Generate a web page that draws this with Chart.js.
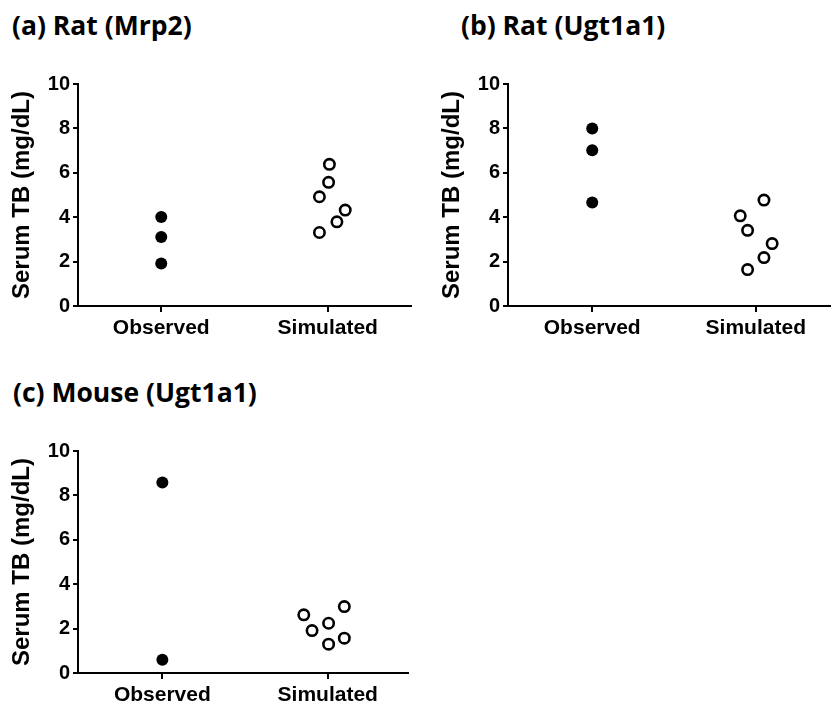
<!DOCTYPE html>
<html>
<head>
<meta charset="utf-8">
<script src="https://cdn.jsdelivr.net/npm/chart.js@4.4.1/dist/chart.umd.min.js"></script>
<style>
  html, body { margin: 0; padding: 0; background: #fff; width: 838px; height: 704px; overflow: hidden; }
  .panel-title { position: absolute; font-family: "Open Sans", sans-serif; font-weight: 700; font-size: 26.5px; line-height: 26.5px; color: #000; white-space: nowrap; }
  canvas { position: absolute; }
</style>
</head>
<body>
<div class="panel-title" style="left:12px; top:12px;">(a) Rat (Mrp2)</div>
<div class="panel-title" style="left:461px; top:12px;">(b) Rat (Ugt1a1)</div>
<div class="panel-title" style="left:13px; top:379px;">(c) Mouse (Ugt1a1)</div>
<canvas id="chartA" width="420" height="290" style="left:0px; top:60px;"></canvas>
<canvas id="chartB" width="418" height="290" style="left:420px; top:60px;"></canvas>
<canvas id="chartC" width="420" height="290" style="left:0px; top:426px;"></canvas>
<script>
// ---- Data ----
const categories = ['Observed', 'Simulated'];
const yTickValues = [0, 2, 4, 6, 8, 10];
const yAxisTitle = 'Serum TB (mg/dL)';

// (a) Rat (Mrp2)
const ratMrp2Observed = [4.01, 3.11, 1.91];
const ratMrp2ObservedJitter = [0, 0, 0];
const ratMrp2Simulated = [4.92, 5.57, 6.38, 4.32, 3.79, 3.31];
const ratMrp2SimulatedJitter = [-0.10, 0.01, 0.02, 0.21, 0.11, -0.10];

// (b) Rat (Ugt1a1)
const ratUgtObserved = [8.00, 7.02, 4.66];
const ratUgtObservedJitter = [0, 0, 0];
const ratUgtSimulated = [4.06, 3.41, 4.77, 2.81, 2.18, 1.64];
const ratUgtSimulatedJitter = [-0.19, -0.10, 0.10, 0.20, 0.10, -0.10];

// (c) Mouse (Ugt1a1)
const mouseUgtObserved = [8.58, 0.60];
const mouseUgtObservedJitter = [0, 0];
const mouseUgtSimulated = [2.62, 1.91, 2.24, 2.99, 1.30, 1.57];
const mouseUgtSimulatedJitter = [-0.29, -0.19, 0.01, 0.20, 0.01, 0.20];

// ---- Helpers ----
const catPos = i => 1 + 2 * i;
function toPoints(values, jitter, catIndex) {
  return values.map((v, i) => ({ x: catPos(catIndex) + jitter[i], y: v }));
}
const tickFont = { family: '"Liberation Sans", Arial, sans-serif', weight: 'bold', size: 20 };
const xTickFont = { family: '"Liberation Sans", Arial, sans-serif', weight: 'bold', size: 21 };
const titleFont = { family: '"Liberation Sans", Arial, sans-serif', weight: 'bold', size: 24 };

function makeChart(id, obs, obsJ, sim, simJ, opt) {
  new Chart(document.getElementById(id), {
    type: 'scatter',
    data: {
      datasets: [
        {
          label: categories[0],
          data: toPoints(obs, obsJ, 0),
          pointStyle: 'circle',
          pointRadius: 6,
          pointBackgroundColor: '#000',
          pointBorderColor: '#000',
          pointBorderWidth: 0,
          clip: false
        },
        {
          label: categories[1],
          data: toPoints(sim, simJ, 1),
          pointStyle: 'circle',
          pointRadius: 5.2,
          pointBackgroundColor: '#fff',
          pointBorderColor: '#000',
          pointBorderWidth: 2.6,
          clip: false
        }
      ]
    },
    options: {
      responsive: false,
      animation: false,
      devicePixelRatio: 1,
      layout: { padding: { left: opt.padLeft, right: opt.padRight, top: opt.padTop, bottom: 0 } },
      plugins: { legend: { display: false }, tooltip: { enabled: false }, title: { display: false } },
      scales: {
        x: {
          type: 'linear',
          min: opt.xMin,
          max: opt.xMax,
          afterBuildTicks: s => { s.ticks = categories.map((c, i) => ({ value: catPos(i) })); },
          afterFit: s => { s.height = opt.xHeight; },
          ticks: {
            autoSkip: false,
            maxRotation: 0,
            color: '#000',
            font: xTickFont,
            padding: 4,
            callback: (v, i) => categories[i]
          },
          grid: { display: true, drawOnChartArea: false, drawTicks: true, tickLength: 6, color: '#000', lineWidth: 2 },
          border: { display: true, color: '#000', width: 2 }
        },
        y: {
          type: 'linear',
          min: 0,
          max: 10,
          afterBuildTicks: s => { s.ticks = yTickValues.map(v => ({ value: v })); },
          afterFit: s => { s.width = 78; },
          ticks: { color: '#000', font: tickFont, padding: 3 },
          grid: { display: true, drawOnChartArea: false, drawTicks: true, tickLength: 5, color: '#000', lineWidth: 2 },
          border: { display: true, color: '#000', width: 2 },
          title: { display: true, text: yAxisTitle, color: '#000', font: titleFont, padding: { top: 8, bottom: 0 } }
        }
      }
    }
  });
}

makeChart('chartA', ratMrp2Observed, ratMrp2ObservedJitter, ratMrp2Simulated, ratMrp2SimulatedJitter,
  { xMin: 0, xMax: 4, padLeft: 0, padRight: 9, padTop: 24, xHeight: 44 });
makeChart('chartB', ratUgtObserved, ratUgtObservedJitter, ratUgtSimulated, ratUgtSimulatedJitter,
  { xMin: -0.03, xMax: 3.91, padLeft: 10, padRight: 2, padTop: 24, xHeight: 44 });
makeChart('chartC', mouseUgtObserved, mouseUgtObservedJitter, mouseUgtSimulated, mouseUgtSimulatedJitter,
  { xMin: -0.02, xMax: 3.97, padLeft: 0, padRight: 12, padTop: 25, xHeight: 43 });
</script>
</body>
</html>
